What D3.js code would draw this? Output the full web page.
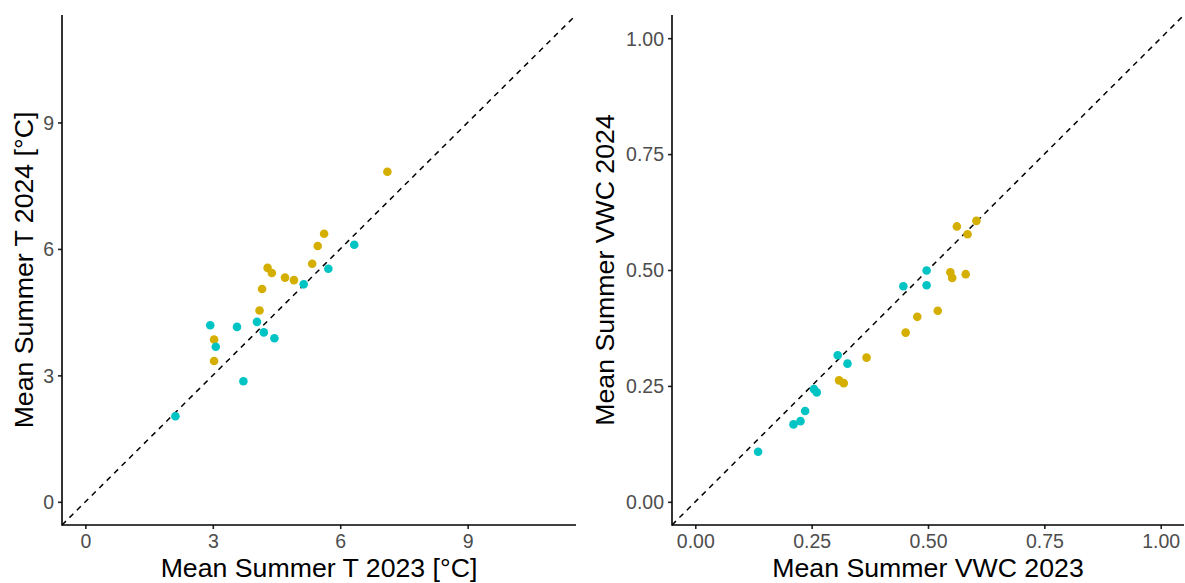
<!DOCTYPE html>
<html><head><meta charset="utf-8">
<script src="https://cdn.jsdelivr.net/npm/d3@7"></script>
<style>body{margin:0;background:#fff}svg{display:block}text{font-family:"Liberation Sans",Arial,sans-serif}</style>
</head><body>
<svg id="c" width="1185" height="583"></svg>
<script>
// Temperature panel
const tGoldX = [7.11,5.62,5.47,5.34,4.29,4.39,4.70,4.91,4.16,4.10,3.03,3.03];
const tGoldY = [7.83,6.36,6.07,5.65,5.55,5.43,5.32,5.26,5.05,4.54,3.85,3.34];
const tTealX = [6.33,5.72,5.14,2.94,3.57,4.04,4.20,4.45,3.07,3.72,2.12];
const tTealY = [6.10,5.53,5.16,4.19,4.15,4.27,4.02,3.88,3.68,2.86,2.03];
const tTicks = [0,3,6,9];
// VWC panel
const vGoldX = [0.604,0.562,0.585,0.548,0.552,0.581,0.521,0.477,0.452,0.368,0.309,0.319];
const vGoldY = [0.606,0.594,0.577,0.495,0.483,0.491,0.412,0.399,0.365,0.311,0.262,0.256];
const vTealX = [0.497,0.447,0.497,0.306,0.327,0.255,0.261,0.236,0.226,0.211,0.135];
const vTealY = [0.499,0.465,0.467,0.316,0.298,0.243,0.236,0.196,0.174,0.167,0.108];
const vTicks = [0,0.25,0.5,0.75,1];
const colors = {gold:"#D4AF00", teal:"#00C4C4"};

const svg = d3.select("#c");

function panel(opt){
  const {x0,x1,y0,y1,dom,ticks,fmt,gx,gy,txx,txy,xTitle,yTitle,yTitleX} = opt;
  const x = d3.scaleLinear().domain(dom).range([x0,x1]);
  const y = d3.scaleLinear().domain(dom).range([y1,y0]);
  const g = svg.append("g");
  const clipId = "clip"+x0;
  g.append("clipPath").attr("id",clipId).append("rect")
    .attr("x",x0).attr("y",y0).attr("width",x1-x0).attr("height",y1-y0);
  // 1:1 line
  g.append("line").attr("clip-path",`url(#${clipId})`)
    .attr("x1",x(dom[0])).attr("y1",y(dom[0])).attr("x2",x(dom[1])).attr("y2",y(dom[1]))
    .attr("stroke","#000").attr("stroke-width",1.5).attr("stroke-dasharray","5.5,5");
  // points
  const pts = [];
  gx.forEach((v,i)=>pts.push({x:v,y:gy[i],c:colors.gold}));
  txx.forEach((v,i)=>pts.push({x:v,y:txy[i],c:colors.teal}));
  g.selectAll("circle.p").data(pts).enter().append("circle")
    .attr("cx",d=>x(d.x)).attr("cy",d=>y(d.y)).attr("r",4.3).attr("fill",d=>d.c);
  // axes
  const ax = g.append("g").attr("transform",`translate(0,${y1})`)
    .call(d3.axisBottom(x).tickValues(ticks).tickFormat(fmt).tickSize(4).tickPadding(4));
  const ay = g.append("g").attr("transform",`translate(${x0},0)`)
    .call(d3.axisLeft(y).tickValues(ticks).tickFormat(fmt).tickSize(4).tickPadding(4));
  [ax,ay].forEach(a=>{
    a.selectAll(".tick line").attr("stroke","#222").attr("stroke-width",1.6);
    a.selectAll(".tick text").attr("fill","#4D4D4D").attr("font-size",19.5)
      .attr("font-family","Liberation Sans, Arial, sans-serif");
  });
  ax.select(".domain").remove(); ay.select(".domain").remove();
  g.append("line").attr("x1",x0).attr("x2",x1).attr("y1",y1).attr("y2",y1).attr("stroke","#000").attr("stroke-width",1.6);
  g.append("line").attr("x1",x0).attr("x2",x0).attr("y1",y0).attr("y2",y1+0.8).attr("stroke","#000").attr("stroke-width",1.6);
  ax.selectAll(".tick text").attr("dy","0.71em").attr("y",9);
  ay.selectAll(".tick text").attr("x",-8).attr("dy","0.35em");
  g.append("text").attr("x",(x0+x1)/2).attr("y",577).attr("text-anchor","middle")
    .attr("font-size",26.7).attr("fill","#000").text(xTitle);
  g.append("text").attr("transform",`translate(${yTitleX},${(y0+y1)/2}) rotate(-90)`)
    .attr("text-anchor","middle").attr("font-size",26.7).attr("fill","#000").text(yTitle);
}

panel({x0:62,x1:576,y0:15,y1:525,dom:[-0.55,11.55],ticks:tTicks,fmt:d3.format("d"),
  gx:tGoldX,gy:tGoldY,txx:tTealX,txy:tTealY,
  xTitle:"Mean Summer T 2023 [°C]",yTitle:"Mean Summer T 2024 [°C]",yTitleX:33});
panel({x0:672,x1:1184,y0:15,y1:525,dom:[-0.05,1.05],ticks:vTicks,fmt:d3.format(".2f"),
  gx:vGoldX,gy:vGoldY,txx:vTealX,txy:vTealY,
  xTitle:"Mean Summer VWC 2023",yTitle:"Mean Summer VWC 2024",yTitleX:614});
</script>
</body></html>
